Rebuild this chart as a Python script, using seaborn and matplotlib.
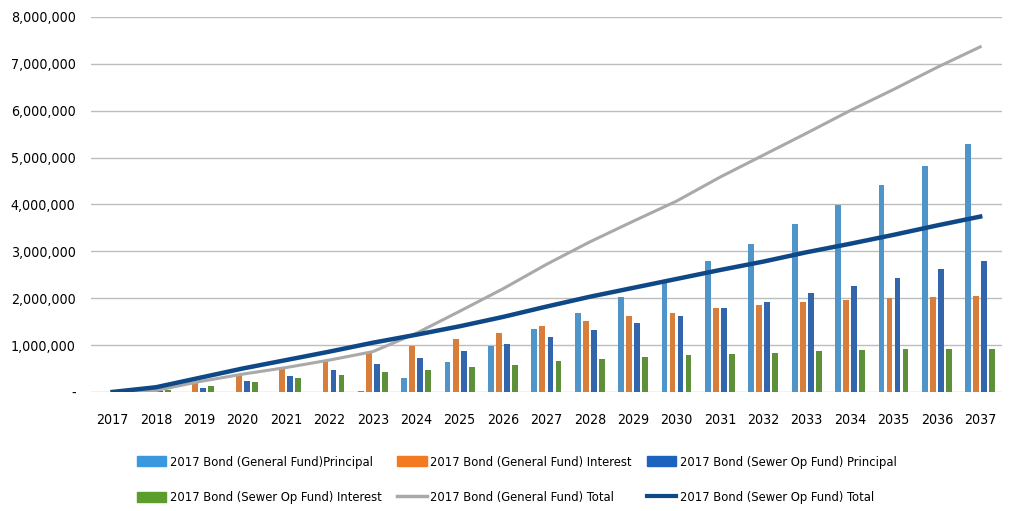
import pandas as pd
import seaborn as sns
import matplotlib.pyplot as plt
from matplotlib import font_manager
from matplotlib.patches import Patch
from matplotlib.lines import Line2D
from matplotlib.ticker import FuncFormatter

years = list(range(2017, 2038))

gf_principal = [0, 0, 0, 0, 0, 0, 0.02, 0.30, 0.64, 0.98, 1.34, 1.69, 2.03, 2.37, 2.80,
                3.15, 3.59, 3.99, 4.42, 4.82, 5.28]
gf_interest = [0, 0.03, 0.22, 0.38, 0.52, 0.68, 0.84, 0.98, 1.12, 1.25, 1.40, 1.51, 1.61, 1.69, 1.78,
               1.86, 1.92, 1.97, 2.01, 2.03, 2.05]
sof_principal = [0, 0.01, 0.09, 0.23, 0.34, 0.47, 0.60, 0.73, 0.87, 1.03, 1.17, 1.32, 1.47, 1.62, 1.78,
                 1.92, 2.10, 2.26, 2.43, 2.63, 2.80]
sof_interest = [0, 0.05, 0.13, 0.21, 0.29, 0.36, 0.42, 0.46, 0.53, 0.57, 0.65, 0.70, 0.74, 0.78, 0.80,
                0.84, 0.87, 0.89, 0.91, 0.91, 0.91]
gf_total = [0, 0.03, 0.22, 0.38, 0.52, 0.68, 0.86, 1.25, 1.72, 2.20, 2.72, 3.20, 3.64, 4.07, 4.58,
            5.05, 5.52, 6.00, 6.45, 6.92, 7.36]
sof_total = [0, 0.10, 0.30, 0.50, 0.68, 0.86, 1.05, 1.22, 1.40, 1.60, 1.82, 2.03, 2.22, 2.41, 2.60,
             2.78, 2.98, 3.16, 3.35, 3.55, 3.74]

bar_labels = ["2017 Bond (General Fund)Principal", "2017 Bond (General Fund) Interest",
              "2017 Bond (Sewer Op Fund) Principal", "2017 Bond (Sewer Op Fund) Interest"]
line_labels = ["2017 Bond (General Fund) Total", "2017 Bond (Sewer Op Fund) Total"]
bar_colors = ["#3a98df", "#f37a20", "#1e62c0", "#5b9e2c"]
line_colors = ["#a9a9a9", "#0e4886"]

M = 1_000_000
bars = pd.DataFrame({
    "year": years * 4,
    "value": [v * M for v in gf_principal + gf_interest + sof_principal + sof_interest],
    "series": [lab for lab in bar_labels for _ in years],
})

# the original uses a narrow (Calibri-like) face; take a condensed one if installed
narrow = None
for f in font_manager.fontManager.ttflist:
    if f.style != "normal" or f.weight not in (400, "normal", "regular"):
        continue
    if "Narrow" in f.name or "Condensed" in f.name or f.stretch in ("condensed", "semi-condensed"):
        if "Extra" in f.name or "Semi" in f.name:
            continue
        narrow = f
        break
if narrow is not None:
    plt.rcParams['font.family'] = [narrow.name, 'DejaVu Sans']
    plt.rcParams['font.stretch'] = narrow.stretch
    fs, lfs = 10.2, 9.3
else:
    plt.rcParams['font.family'] = ['Liberation Sans', 'DejaVu Sans']
    fs, lfs = 9.5, 8.2

fig = plt.figure(figsize=(10.19, 5.11), dpi=100)
ax = fig.add_axes([0.0892, 0.233, 0.894, 0.734])

sns.barplot(data=bars, x="year", y="value", hue="series", hue_order=bar_labels,
            palette=bar_colors, native_scale=True, width=0.74, gap=0.28,
            legend=False, ax=ax, zorder=2)
sns.lineplot(x=years, y=[v * M for v in gf_total], color=line_colors[0], lw=2.2, ax=ax, zorder=3)
sns.lineplot(x=years, y=[v * M for v in sof_total], color=line_colors[1], lw=3.2, ax=ax, zorder=4)

ax.set_xlim(2016.5, 2037.5)
ax.set_ylim(0, 8 * M)
ax.set_xticks(years)
ax.set_xticklabels([str(y) for y in years], fontsize=fs)
ax.set_yticks([i * M for i in range(9)])
ax.yaxis.set_major_formatter(FuncFormatter(lambda v, p: "-" if v == 0 else f"{v:,.0f}"))
ax.tick_params(axis="y", labelsize=fs, length=0, pad=11)
ax.tick_params(axis="x", length=0, pad=15)
ax.grid(axis="y", color="#bdbdbd", lw=1)
ax.set_axisbelow(True)
ax.set_xlabel("")
ax.set_ylabel("")
for s in ax.spines.values():
    s.set_visible(False)

handles = [
    Patch(color=bar_colors[0]), Patch(color=bar_colors[3]),
    Patch(color=bar_colors[1]), Line2D([], [], color=line_colors[0], lw=2.5),
    Patch(color=bar_colors[2]), Line2D([], [], color=line_colors[1], lw=3),
]
labels = [bar_labels[0], bar_labels[3], bar_labels[1], line_labels[0], bar_labels[2], line_labels[1]]
fig.legend(handles, labels, ncol=3, loc="center", bbox_to_anchor=(0.507, 0.061),
           frameon=False, fontsize=lfs, handlelength=2.3, handleheight=0.8,
           handletextpad=0.25, columnspacing=1.2, labelspacing=1.75)

fig.savefig("out.png", dpi=100)
